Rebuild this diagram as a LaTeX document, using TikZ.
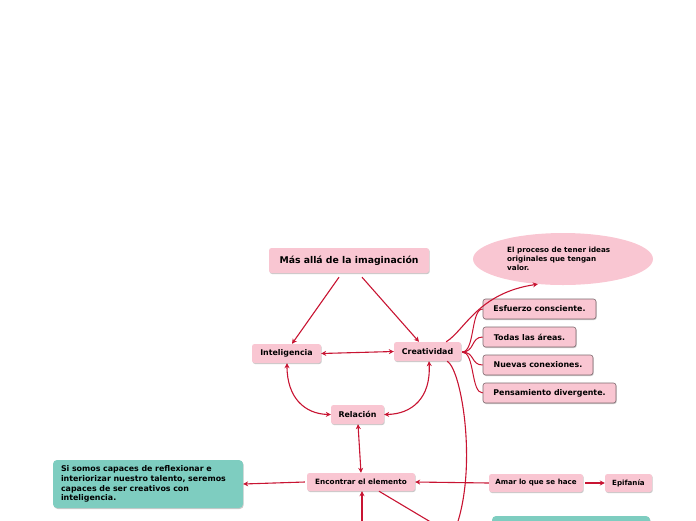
\documentclass[tikz,border=0pt]{standalone}
\usepackage{fontspec}
\setmainfont{DejaVu Sans}
\usetikzlibrary{arrows.meta,shadows,shapes.geometric,calc}
\definecolor{pinkf}{RGB}{249,198,210}
\definecolor{tealf}{RGB}{126,205,192}
\definecolor{conn}{RGB}{200,20,50}
\definecolor{bord}{RGB}{125,105,110}
\begin{document}
\begin{tikzpicture}[x=1pt,y=-1pt,
  box/.style={fill=pinkf, rounded corners=2.5pt, inner sep=0pt,
    font=\bfseries\fontsize{7.9}{9}\selectfont,
    drop shadow={shadow xshift=0.7pt,shadow yshift=-1pt,opacity=0.3,fill=black!70}},
  sbox/.style={box, font=\bfseries\fontsize{7.1}{8}\selectfont},
  lbox/.style={box, draw=bord, line width=0.6pt},
  tbox/.style={fill=tealf, rounded corners=4pt, inner xsep=8pt, inner ysep=0pt, align=left,
    font=\bfseries\fontsize{7.9}{9.7}\selectfont,
    drop shadow={shadow xshift=0.7pt,shadow yshift=-1pt,opacity=0.3,fill=black!70}},
  link/.style={draw=conn, line width=1.1pt},
  arr/.style={link, -{Stealth[length=5pt,width=5pt]}},
  darr/.style={link, {Stealth[length=5pt,width=5pt]}-{Stealth[length=5pt,width=5pt]}}
]
\useasboundingbox (0,0) rectangle (696,520);
\clip (0,0) rectangle (696,520);

\node[box, minimum width=160pt, minimum height=25pt, font=\bfseries\fontsize{9.3}{11}\selectfont] (title) at (349,260.5) {Más allá de la imaginación};
\node[box, minimum width=69pt, minimum height=19pt] (intel) at (286.5,353.5) {Inteligencia};
\node[box, minimum width=67pt, minimum height=19pt] (creat) at (427.5,351.5) {Creatividad};
\node[ellipse, fill=pinkf, minimum width=180pt, minimum height=52pt, inner sep=0pt] (ell) at (563,259) {};
\node[anchor=west, align=left, inner sep=0pt, font=\bfseries\fontsize{7.2}{9}\selectfont] (elltext) at (507,259) {El proceso de tener ideas\\originales que tengan\\valor.};
\node[lbox, minimum width=113pt, minimum height=20pt] (esf) at (539.5,309) {Esfuerzo consciente.};
\node[lbox, minimum width=93pt, minimum height=20pt] (tod) at (529.5,337) {Todas las áreas.};
\node[lbox, minimum width=110pt, minimum height=20pt] (nue) at (538,365) {Nuevas conexiones.};
\node[lbox, minimum width=133pt, minimum height=20pt] (pen) at (549.5,393) {Pensamiento divergente.};
\node[box, minimum width=53pt, minimum height=19pt] (rel) at (357.5,414.5) {Relación};
\node[sbox, minimum width=108pt, minimum height=18pt, font=\bfseries\fontsize{7.3}{8}\selectfont] (enc) at (361,482) {Encontrar el elemento};
\node[tbox, minimum width=190pt, minimum height=48pt, text width=174pt] (si) at (148,484) {Si somos capaces de reflexionar e\\interiorizar nuestro talento, seremos\\capaces de ser creativos con\\inteligencia.};
\node[sbox, minimum width=94pt, minimum height=18pt] (amar) at (536,483) {Amar lo que se hace};
\node[sbox, minimum width=47pt, minimum height=18pt] (epi) at (628.5,483) {Epifanía};
\node[tbox, minimum width=158pt, minimum height=48pt, text width=142pt] (bot) at (571,540) {};

\coordinate (offb1) at (362,525);
\coordinate (offb2) at (434,524);
\coordinate (offb3) at (455,530);

\draw[arr] ($(title.south)+(-10,4)$) -- ($(intel.north)+(5.5,0)$);
\draw[arr] ($(title.south)+(13,4)$) -- ($(creat.north)+(-8.5,0)$);
\draw[darr] (intel.east) -- (creat.west);
\draw[darr] ($(intel.south)+(0.5,0)$) .. controls (287,398) and (305,414) .. (rel.west);
\draw[darr] ($(creat.south)+(1.5,0)$) .. controls (431,398) and (412,414) .. (rel.east);
\draw[darr] ($(rel.south)+(0.5,0)$) -- (enc.north);
\draw[arr] ($(enc.west)+(-2,0)$) -- (si.east);
\draw[arr] (amar.west) -- (enc.east);
\draw[arr] ($(amar.east)+(2,0)$) -- (epi.west);
\draw[arr] (offb1) -- ($(enc.south)+(1,0)$);
\draw[link] ($(enc.south)+(18,0)$) -- (offb2);
\draw[link] ($(creat.south east)+(-14,0)$) .. controls (462,370) and (478,470) .. (offb3);
\draw[arr] ($(creat.north east)+(-15,0)$) .. controls (465,330) and (478,293) .. (ell.-135);
\foreach \t in {esf,tod,nue,pen}{
  \draw[link, line width=1pt] ($(creat.east)+(1,0.5)$) .. controls (475,352) and ($(\t.west)+(-12,0)$) .. (\t.west);
}
\end{tikzpicture}
\end{document}
